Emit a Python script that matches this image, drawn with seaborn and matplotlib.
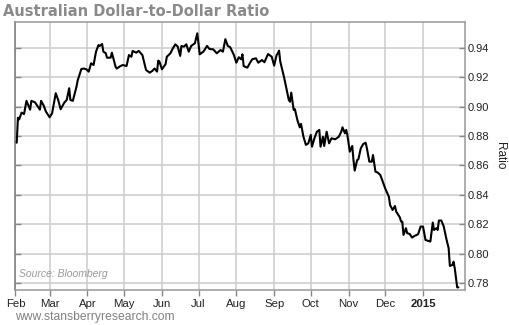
import pandas as pd
import numpy as np
import matplotlib
matplotlib.use("Agg")
import matplotlib.pyplot as plt
import matplotlib.dates as mdates
import seaborn as sns

# Days after 2014-02-01 and AUD/USD ratio values
day_offsets = [0, 1, 2, 3, 5, 7, 9, 12, 13, 16, 18, 20, 21, 23, 25, 28, 30, 33, 35, 37,
               40, 42, 44, 45, 47, 50, 51, 54, 56, 58, 60, 62, 64, 66, 68, 69, 71, 72, 74, 75,
               78, 79, 82, 83, 86, 88, 91, 93, 95, 96, 99, 101, 104, 107, 110, 112, 114, 116, 117, 118,
               120, 123, 124, 127, 129, 131, 133, 135, 136, 138, 140, 142, 144, 147, 149, 151, 154, 157, 159, 162,
               165, 168, 170, 172, 174, 176, 179, 181, 183, 185, 186, 187, 190,
               192, 194, 197, 199, 202, 204, 207, 210, 212, 214, 215, 216, 217, 220, 222, 224, 225, 226, 228, 229,
               231, 233, 234, 236, 238, 240, 242, 243, 245, 247, 249, 250, 252, 253, 255, 257, 259, 262, 265, 267,
               268, 270, 271, 272, 274, 276, 277, 278, 280, 281, 283, 285, 287, 288, 290, 292, 293, 295, 297, 299,
               301, 303, 306, 307, 309, 311, 312, 315, 316, 317, 318, 320, 321, 323, 325, 327, 330, 332, 333, 334,
               336, 338, 340, 342, 343, 345, 346, 347, 349, 351, 353, 355, 356, 358, 359, 360, 362, 363]
ratio = [0.876, 0.8755, 0.8925, 0.8914, 0.896, 0.895, 0.904, 0.898, 0.904, 0.903, 0.9005, 0.898, 0.904, 0.901, 0.8966, 0.8928, 0.8955, 0.9092, 0.9046, 0.8983,
         0.9028, 0.9046, 0.9126, 0.9046, 0.904, 0.9137, 0.918, 0.9257, 0.926, 0.9255, 0.9239, 0.9296, 0.9284, 0.9375, 0.942, 0.9414, 0.9427, 0.9375, 0.9364, 0.9334,
         0.9334, 0.9368, 0.9273, 0.926, 0.9277, 0.9284, 0.9277, 0.9352, 0.934, 0.938, 0.9368, 0.938, 0.9352, 0.925, 0.9232, 0.9243, 0.926, 0.9239, 0.9314, 0.9307,
         0.9255, 0.929, 0.934, 0.9364, 0.9398, 0.9425, 0.9409, 0.9346, 0.9414, 0.9409, 0.9425, 0.9375, 0.9414, 0.9432, 0.950, 0.9357, 0.9375, 0.9414, 0.9393, 0.9391,
         0.9364, 0.9386, 0.9375, 0.946, 0.9414, 0.9405, 0.9352, 0.930, 0.9337, 0.9323, 0.9357, 0.9277, 0.9266,
         0.9296, 0.9323, 0.933, 0.930, 0.9318, 0.9303, 0.9359, 0.934, 0.928, 0.9352, 0.9364, 0.9382, 0.9307, 0.9205, 0.9126, 0.9046, 0.9034, 0.9096, 0.8978, 0.8983,
         0.891, 0.886, 0.8883, 0.8796, 0.874, 0.8751, 0.8808, 0.8728, 0.8785, 0.883, 0.8842, 0.8728, 0.8796, 0.8733, 0.883, 0.8751, 0.8785, 0.8778, 0.8796, 0.883,
         0.886, 0.8819, 0.8842, 0.8808, 0.8694, 0.8733, 0.8637, 0.8565, 0.8637, 0.8642, 0.8717, 0.8746, 0.8755, 0.8717, 0.8626, 0.8626, 0.8671, 0.8558, 0.8551, 0.8535,
         0.849, 0.8444, 0.8387, 0.8331, 0.8297, 0.8324, 0.8286, 0.8247, 0.8218, 0.8218, 0.8127, 0.8173, 0.8139, 0.8134, 0.8109, 0.812, 0.8132, 0.8184, 0.8184, 0.8184,
         0.8093, 0.8087, 0.8082, 0.8211, 0.8161, 0.8173, 0.8161, 0.8225, 0.8225, 0.8184, 0.8105, 0.8036, 0.7916, 0.7922, 0.7945, 0.790, 0.777, 0.777]

month_ticks = ["2014-02-01", "2014-03-01", "2014-04-01", "2014-05-01", "2014-06-01", "2014-07-01",
               "2014-08-01", "2014-09-01", "2014-10-01", "2014-11-01", "2014-12-01", "2015-01-01"]
month_labels = ["Feb", "Mar", "Apr", "May", "Jun", "Jul", "Aug", "Sep", "Oct", "Nov", "Dec", "2015"]
y_ticks = [0.78, 0.80, 0.82, 0.84, 0.86, 0.88, 0.90, 0.92, 0.94]

start = pd.Timestamp("2014-02-01")
df = pd.DataFrame({
    "date": start + pd.to_timedelta(day_offsets, unit="D"),
    "ratio": ratio,
})

sns.set_style("white")
plt.rcParams["font.family"] = ["Liberation Sans", "DejaVu Sans"]

fig = plt.figure(figsize=(5.10, 3.25), dpi=100)
ax = fig.add_axes([15 / 510, 1 - 290 / 325, 450 / 510, 268 / 325])

sns.lineplot(data=df, x="date", y="ratio", ax=ax, color="black", linewidth=1.5)

ax.set_xlim(start - pd.Timedelta(days=0.4), start + pd.Timedelta(days=368.4))
ax.set_ylim(0.7752, 0.9577)

ax.set_xticks(pd.to_datetime(month_ticks))
ax.set_xticklabels(month_labels)
for lbl in ax.get_xticklabels():
    if lbl.get_text() == "2015":
        lbl.set_fontweight("bold")
ax.set_yticks(y_ticks)
ax.set_yticklabels([f"{v:.2f}" for v in y_ticks])

ax.yaxis.tick_right()
ax.yaxis.set_label_position("right")
ax.tick_params(axis="y", which="both", right=True, left=True, direction="out", length=4,
               width=1, color="#888888", labelsize=8, labelcolor="#222222", pad=2)
ax.tick_params(axis="y", left=True, direction="in")
ax.tick_params(axis="x", bottom=True, direction="out", length=4, width=1, color="#888888",
               labelsize=8.2, labelcolor="#222222", pad=2.5)

ax.grid(True, color="#cccccc", linewidth=1.1)
ax.set_axisbelow(True)
for s in ax.spines.values():
    s.set_visible(True)
    s.set_color("#999999")
    s.set_linewidth(1.1)
ax.spines["left"].set_color("#777777")

ax.set_xlabel("")
ax.set_ylabel("Ratio", rotation=270, labelpad=12, fontsize=8.5, color="#222222")

fig.text(3 / 510, 1 - 12 / 325, "Australian Dollar-to-Dollar Ratio", fontsize=10.5,
         fontweight="bold", color="#8a8a8a", va="center", ha="left", family="DejaVu Sans")
ax.text(0.008, 0.04, "Source: Bloomberg", transform=ax.transAxes, fontsize=7.5,
        style="italic", color="#999999", ha="left", va="bottom")
fig.text(15 / 510, 1 - 317 / 325, "www.stansberryresearch.com", fontsize=8.7,
         color="#808080", ha="left", va="center")

fig.savefig("out.png", dpi=100)
